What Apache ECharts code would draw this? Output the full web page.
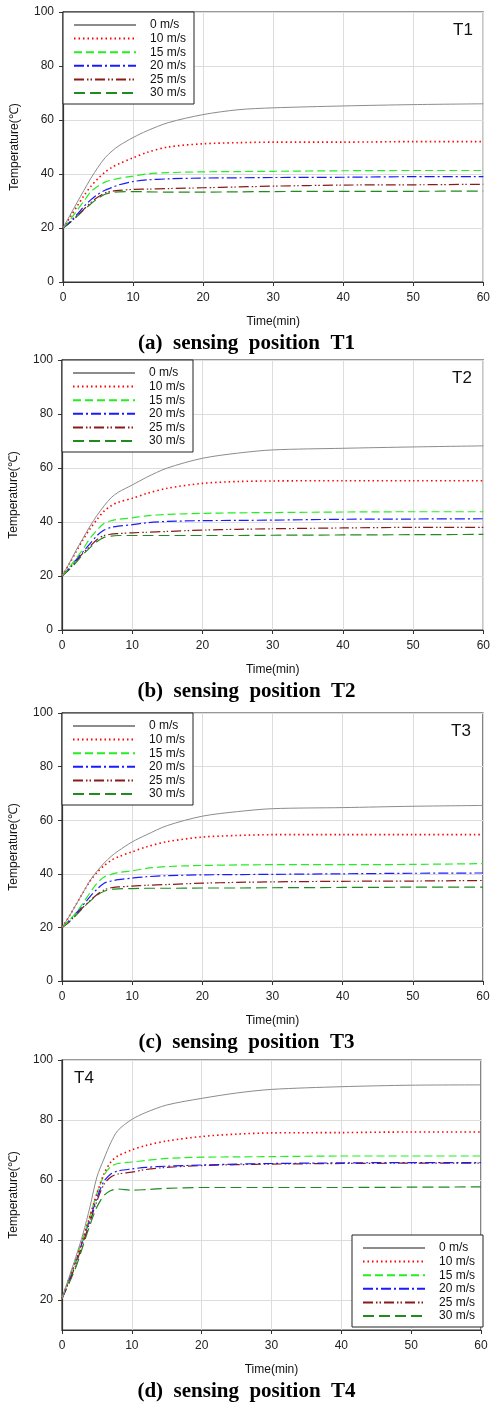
<!DOCTYPE html>
<html>
<head>
<meta charset="utf-8">
<script src="https://cdn.jsdelivr.net/npm/echarts@6/dist/echarts.min.js"></script>
<style>
  html, body { margin: 0; padding: 0; background: #fff; }
  #main { width: 493px; height: 1403px; }
</style>
</head>
<body>
<div id="main"></div>
<script>
// sampling times (min), shared by all curves
var time = [0, 1, 2, 3, 4, 5, 6, 7, 8, 10, 12, 15, 20, 25, 30, 40, 50, 60];
var speeds = ['0 m/s', '10 m/s', '15 m/s', '20 m/s', '25 m/s', '30 m/s'];

// T1
var t1_0  = [20, 24.7, 29.4, 34, 38.5, 42.5, 46, 48.5, 50.5, 53.5, 56, 59, 62, 63.8, 64.5, 65.2, 65.7, 66];
var t1_10 = [20, 24, 28, 32, 35.5, 38.3, 40.7, 42.5, 43.8, 46, 48, 50, 51.2, 51.6, 51.8, 51.8, 52, 52];
var t1_15 = [20, 23, 26.5, 30, 33.5, 35.5, 37, 37.8, 38.4, 39.2, 40, 40.5, 40.8, 40.9, 41, 41.2, 41.3, 41.3];
var t1_20 = [20, 22.3, 25, 28, 30.5, 32.5, 34, 35, 36, 37.2, 37.8, 38.2, 38.5, 38.6, 38.7, 38.8, 39, 39];
var t1_25 = [20, 22, 24.5, 27, 29.5, 31.5, 33, 33.6, 33.9, 34.3, 34.4, 34.6, 34.9, 35.2, 35.5, 35.9, 36, 36.2];
var t1_30 = [20, 22, 24.3, 26.8, 29, 31, 32.5, 33.2, 33.4, 33.5, 33.4, 33.3, 33.3, 33.4, 33.5, 33.6, 33.6, 33.7];

// T2
var t2_0  = [20, 24.5, 29.5, 34, 38.5, 42.5, 46, 49, 51, 53.7, 56.5, 60, 63.6, 65.5, 66.7, 67.3, 67.8, 68.2];
var t2_10 = [20, 24.3, 29, 33.5, 37.5, 41, 44, 46, 47.3, 48.8, 50.5, 52.5, 54.3, 55, 55.2, 55.3, 55.3, 55.3];
var t2_15 = [20, 23, 26.5, 30, 34, 37, 39.5, 40.5, 41, 41.5, 42.3, 42.8, 43.2, 43.4, 43.5, 43.7, 43.8, 43.8];
var t2_20 = [20, 22.8, 26, 29, 32, 35, 37, 38, 38.5, 39, 39.7, 40.2, 40.5, 40.6, 40.7, 41, 41.1, 41.2];
var t2_25 = [20, 22.5, 25.5, 28.5, 31, 33.5, 35, 35.5, 35.7, 36, 36.2, 36.5, 37, 37.3, 37.5, 37.8, 38, 38];
var t2_30 = [20, 22.3, 25, 28, 30.5, 32.8, 34.3, 34.8, 35, 35, 35, 35, 35, 35, 35.1, 35.2, 35.3, 35.4];

// T3
var t3_0  = [20, 24, 28.5, 33, 37.5, 41, 44, 46.5, 48.5, 51.9, 54.5, 58, 61.5, 63.2, 64.3, 64.7, 65.2, 65.5];
var t3_10 = [20, 24, 28.5, 33, 37.3, 40.5, 43, 45, 46.3, 48.2, 50, 52, 53.7, 54.3, 54.6, 54.6, 54.6, 54.6];
var t3_15 = [20, 22.5, 25.5, 29, 33, 36.5, 38.8, 39.8, 40.5, 41.1, 42, 42.7, 43.1, 43.3, 43.4, 43.4, 43.5, 43.8];
var t3_20 = [20, 22.5, 25.3, 28.3, 31.5, 34.3, 36.5, 37.3, 37.8, 38.4, 38.9, 39.3, 39.6, 39.7, 39.8, 40, 40.2, 40.3];
var t3_25 = [20, 22, 24.8, 27.5, 30, 32.3, 34, 34.8, 35.1, 35.4, 35.7, 36, 36.5, 36.8, 37, 37.2, 37.3, 37.5];
var t3_30 = [20, 22, 24.5, 27.3, 29.8, 32, 33.5, 34.2, 34.4, 34.5, 34.6, 34.6, 34.7, 34.7, 34.8, 34.9, 35, 35];

// T4
var t4_0  = [20.5, 27.5, 34.5, 42, 51, 61, 67, 72.5, 76.5, 80.2, 82.5, 85, 87.2, 89, 90.2, 91.1, 91.6, 91.7];
var t4_10 = [20.5, 27, 33.5, 40.5, 48, 55.5, 62, 66, 68, 70, 71.5, 73, 74.5, 75.3, 75.7, 75.8, 76, 76];
var t4_15 = [20.5, 27, 33.5, 40.5, 48, 55.5, 61.5, 64.5, 65.5, 66, 66.5, 67.2, 67.6, 67.7, 67.8, 68, 68, 68];
var t4_20 = [20.5, 26.5, 33, 40, 47, 54, 59.5, 62, 63, 63.7, 64.2, 64.6, 65, 65.3, 65.5, 65.7, 65.8, 65.8];
var t4_25 = [20.5, 26, 32, 39, 46, 53, 58.5, 61, 62, 62.6, 63.5, 64.2, 64.8, 65.1, 65.3, 65.5, 65.6, 65.6];
var t4_30 = [20.5, 25.5, 31, 38, 45, 51, 54.8, 56.5, 57, 56.6, 56.8, 57.2, 57.5, 57.5, 57.5, 57.5, 57.6, 57.7];

var yTicks4 = [20, 40, 60, 80, 100];

var panels = [
  { tag: 'T1', caption: '(a)  sensing  position  T1', curves: [t1_0, t1_10, t1_15, t1_20, t1_25, t1_30] },
  { tag: 'T2', caption: '(b)  sensing  position  T2', curves: [t2_0, t2_10, t2_15, t2_20, t2_25, t2_30] },
  { tag: 'T3', caption: '(c)  sensing  position  T3', curves: [t3_0, t3_10, t3_15, t3_20, t3_25, t3_30] },
  { tag: 'T4', caption: '(d)  sensing  position  T4', curves: [t4_0, t4_10, t4_15, t4_20, t4_25, t4_30] }
];

// layout of each panel (pixels)
var boxes = [
  { left: 63, top: 12, width: 422, height: 270 },
  { left: 62, top: 360, width: 422, height: 270 },
  { left: 62, top: 713, width: 421, height: 268 },
  { left: 61, top: 1060, width: 420, height: 270 }
];

var styles = [
  { color: '#8c8c8c', type: 'solid', width: 1 },
  { color: '#ff0000', type: [1.5, 3], width: 1.6 },
  { color: '#22ee22', type: [8, 4], width: 1.2 },
  { color: '#1a1aff', type: [10, 3, 2, 3], width: 1.2 },
  { color: '#8b1a1a', type: [10, 3, 1.5, 2, 1.5, 3], width: 1.2 },
  { color: '#1e8c1e', type: [11, 5], width: 1.2 }
];

var font = 'Liberation Sans, Arial, sans-serif';

var grid = [], xAxis = [], yAxis = [], series = [], legend = [], title = [];

panels.forEach(function (p, i) {
  var b = boxes[i];
  grid.push({
    left: b.left, top: b.top, width: b.width, height: b.height,
    show: true, borderColor: '#333', borderWidth: 1.2, backgroundColor: '#fff'
  });
  xAxis.push({
    gridIndex: i, type: 'value', min: 0, max: 60, interval: 10,
    name: 'Time(min)', nameLocation: 'middle', nameGap: 34,
    nameTextStyle: { fontFamily: font, fontSize: 12, color: '#111' },
    axisLine: { lineStyle: { color: '#333', width: 1.2 } },
    axisTick: { show: true, length: 4, lineStyle: { color: '#333' } },
    axisLabel: { fontFamily: font, fontSize: 12, color: '#222', margin: 10 },
    splitLine: { show: true, lineStyle: { color: '#dcdcdc', width: 1 } }
  });
  var y = {
    gridIndex: i, type: 'value', min: 0, max: 100, interval: 20,
    name: 'Temperature(\u2103)', nameLocation: 'middle', nameGap: 42,
    nameTextStyle: { fontFamily: font, fontSize: 12, color: '#111' },
    axisLine: { lineStyle: { color: '#333', width: 1.2 } },
    axisTick: { show: true, length: 4, lineStyle: { color: '#333' } },
    axisLabel: { fontFamily: font, fontSize: 12, color: '#222', margin: 9 },
    splitLine: { show: true, lineStyle: { color: '#dcdcdc', width: 1 } }
  };
  if (i === 3) {
    y.min = 10;
    delete y.interval;
    y.axisTick.customValues = yTicks4;
    y.axisLabel.customValues = yTicks4;
  }
  yAxis.push(y);

  p.curves.forEach(function (vals, k) {
    series.push({
      name: speeds[k], type: 'line', xAxisIndex: i, yAxisIndex: i,
      data: time.map(function (t, j) { return [t, vals[j]]; }),
      symbol: 'none', smooth: 0.3,
      lineStyle: styles[k], itemStyle: { color: styles[k].color },
      z: 10 - k
    });
  });

  var lg = {
    data: speeds, orient: 'vertical', itemWidth: 62, itemHeight: 10, itemGap: 1.6,
    padding: [7, 8, 5, 10], borderColor: '#222', borderWidth: 1, backgroundColor: '#fff',
    itemStyle: { opacity: 0 },
    textStyle: { fontFamily: font, fontSize: 12, color: '#111', padding: [0, 0, 0, 9], lineHeight: 12 },
    selectedMode: false, z: 20
  };
  if (i === 3) { lg.left = 352; lg.top = 1235; }
  else { lg.left = b.left; lg.top = b.top; }
  legend.push(lg);

  title.push({
    text: p.caption, left: 'center', top: b.top + b.height + 51, padding: 0,
    textStyle: { fontFamily: 'Liberation Serif, Times New Roman, serif', fontWeight: 'bold', fontSize: 21, color: '#000' }
  });
  title.push({
    text: p.tag, padding: 0,
    left: i === 3 ? 74 : b.left + b.width - 32, top: b.top + 10,
    textStyle: { fontFamily: font, fontWeight: 'normal', fontSize: 17, color: '#111' }
  });
});

var chart = echarts.init(document.getElementById('main'), null, { renderer: 'canvas' });
chart.setOption({
  animation: false,
  backgroundColor: '#fff',
  title: title,
  legend: legend,
  grid: grid,
  xAxis: xAxis,
  yAxis: yAxis,
  series: series
});
</script>
</body>
</html>
